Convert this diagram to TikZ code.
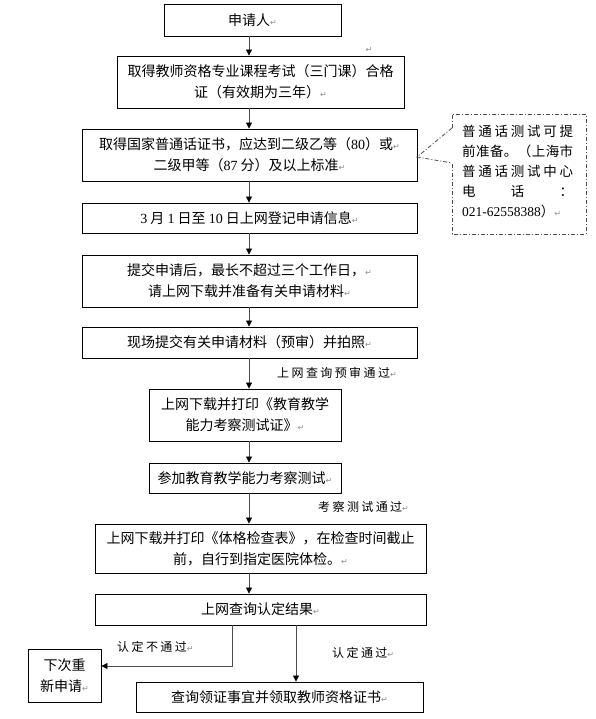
\documentclass[tikz,border=0pt]{standalone}
\usepackage{fontspec}
\setmainfont{Liberation Serif}
\newfontfamily\cjk{Noto Sans CJK SC}
\newfontfamily\cjklbl[LetterSpace=20]{Noto Sans CJK SC}
\newfontfamily\symfont{DejaVu Sans}
\usepackage{tikz}
\usetikzlibrary{arrows.meta}
% paragraph mark left over from the word processor
\newcommand\pmark{{\symfont\color{black!45}\fontsize{8}{8}\selectfont ↵}}

\begin{document}
\begin{tikzpicture}[x=1pt,y=-1pt,
  stepbox/.style={draw,line width=0.9pt,align=center,inner sep=0pt,
    font=\cjk\fontsize{14}{21}\selectfont},
  flow/.style={draw=black!70,line width=0.8pt,
    -{Triangle[length=6pt,width=6pt,color=black]}},
  passlbl/.style={anchor=west,inner sep=0pt,font=\cjklbl\fontsize{12}{13}\selectfont},
  dashdot/.style={draw=black!70,line width=0.8pt,
    dash pattern=on 4pt off 2pt on 1pt off 2pt}]
  \useasboundingbox (0,0) rectangle (595,719);
  \coordinate (spine) at (249,0);

  % Main column of steps
  \node[stepbox,minimum width=177,minimum height=32] (apply) at (252.5,20) {申请人\pmark};
  \node[inner sep=0pt] (stray) at (369,50) {\pmark};
  \node[stepbox,minimum width=287,minimum height=52] (course) at (260.5,82)
    {取得教师资格专业课程考试（三门课）合格\\证（有效期为三年）\pmark};
  \node[stepbox,minimum width=335,minimum height=52] (mandarin) at (249.5,155)
    {取得国家普通话证书，应达到二级乙等（{\rmfamily 80}）或\pmark\\
     二级甲等（{\rmfamily 87} 分）及以上标准\pmark};
  \node[stepbox,minimum width=335,minimum height=30] (register) at (249.5,218)
    {{\rmfamily 3} 月 {\rmfamily 1} 日至 {\rmfamily 10} 日上网登记申请信息\pmark};
  \node[stepbox,minimum width=335,minimum height=52] (submit) at (249.5,281)
    {提交申请后，最长不超过三个工作日，\pmark\\请上网下载并准备有关申请材料\pmark};
  \node[stepbox,minimum width=335,minimum height=31] (onsite) at (249.5,342.5)
    {现场提交有关申请材料（预审）并拍照\pmark};
  \node[stepbox,minimum width=192,minimum height=52] (ticket) at (245,415)
    {上网下载并打印《教育教学\\能力考察测试证》\pmark};
  \node[stepbox,minimum width=192,minimum height=30] (test) at (245,478)
    {参加教育教学能力考察测试\pmark};
  \node[stepbox,minimum width=331,minimum height=49] (medical) at (260.5,548.5)
    {上网下载并打印《体格检查表》，在检查时间截止\\前，自行到指定医院体检。\pmark};
  \node[stepbox,minimum width=331,minimum height=31] (result) at (260.5,609.5)
    {上网查询认定结果\pmark};
  \node[stepbox,minimum width=73,minimum height=53] (retry) at (64.5,675.5)
    {下次重\\新申请\pmark};
  \node[stepbox,minimum width=287,minimum height=30] (cert) at (279.5,697)
    {查询领证事宜并领取教师资格证书\pmark};

  % Straight arrows down the spine
  \foreach \a/\b in {apply/course,course/mandarin,mandarin/register,
      register/submit,submit/onsite,onsite/ticket,ticket/test,
      test/medical,medical/result}
    \draw[flow] (\a.south -| spine) -- (\b.north -| spine);

  % Branches at the end
  \coordinate (failturn) at (232,666);
  \coordinate (passx) at (296,0);
  \draw[flow] (result.south -| failturn) -- (failturn) -- (retry.east |- failturn);
  \draw[flow] (result.south -| passx) -- (cert.north -| passx);

  % Labels on the arrows
  \node[passlbl] (prepass) at (277,373) {上网查询预审通过\pmark};
  \node[passlbl] (testpass) at (318,507) {考察测试通过\pmark};
  \node[passlbl] (fail) at (117,647) {认定不通过\pmark};
  \node[passlbl] (pass) at (332,653) {认定通过\pmark};

  % Side note with callout
  \coordinate (tipin) at (417,157);
  \coordinate (gaptop) at (452,128);
  \coordinate (gapbot) at (452,163);
  \draw[dashdot] (gaptop) -- (452,114) -- (586,114) -- (586,234)
    -- (452,234) -- (gapbot);
  \draw[dashdot] (gaptop) -- (tipin) -- (gapbot);
  \node[anchor=north west,text width=111,align=left,inner sep=0pt,
    font=\cjk\fontsize{13.5}{20}\selectfont] (tip) at (462,125)
    {\makebox[111pt][l]{普\hfill 通\hfill 话\hfill 测\hfill 试\hfill 可\hfill 提}\\
     \makebox[111pt][l]{前\hfill 准\hfill 备\hfill 。\hfill （\hfill 上\hfill 海\hfill 市}\\
     \makebox[111pt][l]{普\hfill 通\hfill 话\hfill 测\hfill 试\hfill 中\hfill 心}\\
     \makebox[111pt][l]{电\hfill 话\hfill ：}\\
     {\rmfamily 021-62558388}）\pmark};
\end{tikzpicture}
\end{document}
